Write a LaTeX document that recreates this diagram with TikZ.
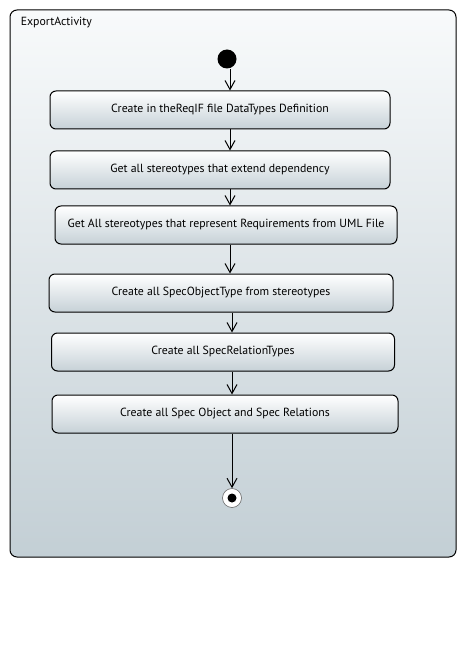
\documentclass[tikz,border=0pt]{standalone}
\usepackage{fontspec}
\setmainfont{PT Sans}
\usetikzlibrary{positioning,arrows.meta}
\definecolor{framebottom}{HTML}{C3CFD5}
\definecolor{frametop}{HTML}{F8FAFB}
\definecolor{boxbottom}{HTML}{C6D1D7}
\begin{document}
\begin{tikzpicture}[->,>={Straight Barb[length=9pt,width=10pt]},line width=1pt,node distance=20pt,
    action node/.style={rectangle,rounded corners=6pt,draw,top color=white,bottom color=boxbottom,minimum width=340pt,minimum height=38pt,font=\fontsize{11.8}{14}\selectfont},
    start node/.style={circle,fill=black,minimum size=19pt,inner sep=0pt},
    end node/.style={circle,draw=black!60,line width=0.6pt,fill=white,minimum size=19pt,inner sep=0pt,path picture={\fill[black] (path picture bounding box.center) circle (4.5pt);}}]
            \fill[white] (0,0) rectangle (466pt,-668pt);
            \draw[-,rounded corners=7pt,top color=frametop,bottom color=framebottom] (10pt,-10pt) rectangle (456pt,-557pt);
            \node[anchor=west,font=\fontsize{11.8}{14}\selectfont] (title) at (17pt,-23pt) {ExportActivity};
            \coordinate (axis) at (230pt,0);

            \node[start node] (start) at (227pt,-59pt) {};
            \node[action node] (datatypes) at (220pt,-110pt) {Create in theReqIF file DataTypes Definition};
            \node[action node] (dependency) [below=21pt of datatypes] {Get all stereotypes that extend dependency};
            \node[action node,minimum width=342pt] (requirements) [below=16pt of dependency,xshift=6pt] {Get All stereotypes that represent Requirements from UML File};
            \node[action node,minimum width=344pt] (objecttype) [below=29pt of requirements,xshift=-5pt] {Create all SpecObjectType from stereotypes};
            \node[action node,minimum width=343pt] (relationtypes) [below=20pt of objecttype,xshift=2pt] {Create all SpecRelationTypes};
            \node[action node,minimum width=346pt] (specobjects) [below=23pt of relationtypes,xshift=2pt] {Create all Spec Object and Spec Relations};
            \node[end node] (end) at (232pt,-498pt) {};

            \path
                (start.south -| axis) edge (datatypes.north -| axis)
                (datatypes.south -| axis) edge (dependency.north -| axis)
                (dependency.south -| axis) edge (requirements.north -| axis)
                (requirements.south -| axis) edge (objecttype.north -| axis)
                (objecttype.south -| end) edge (relationtypes.north -| end)
                (relationtypes.south -| end) edge (specobjects.north -| end)
                (specobjects.south -| end) edge (end)
                ;
        \end{tikzpicture}
\end{document}
